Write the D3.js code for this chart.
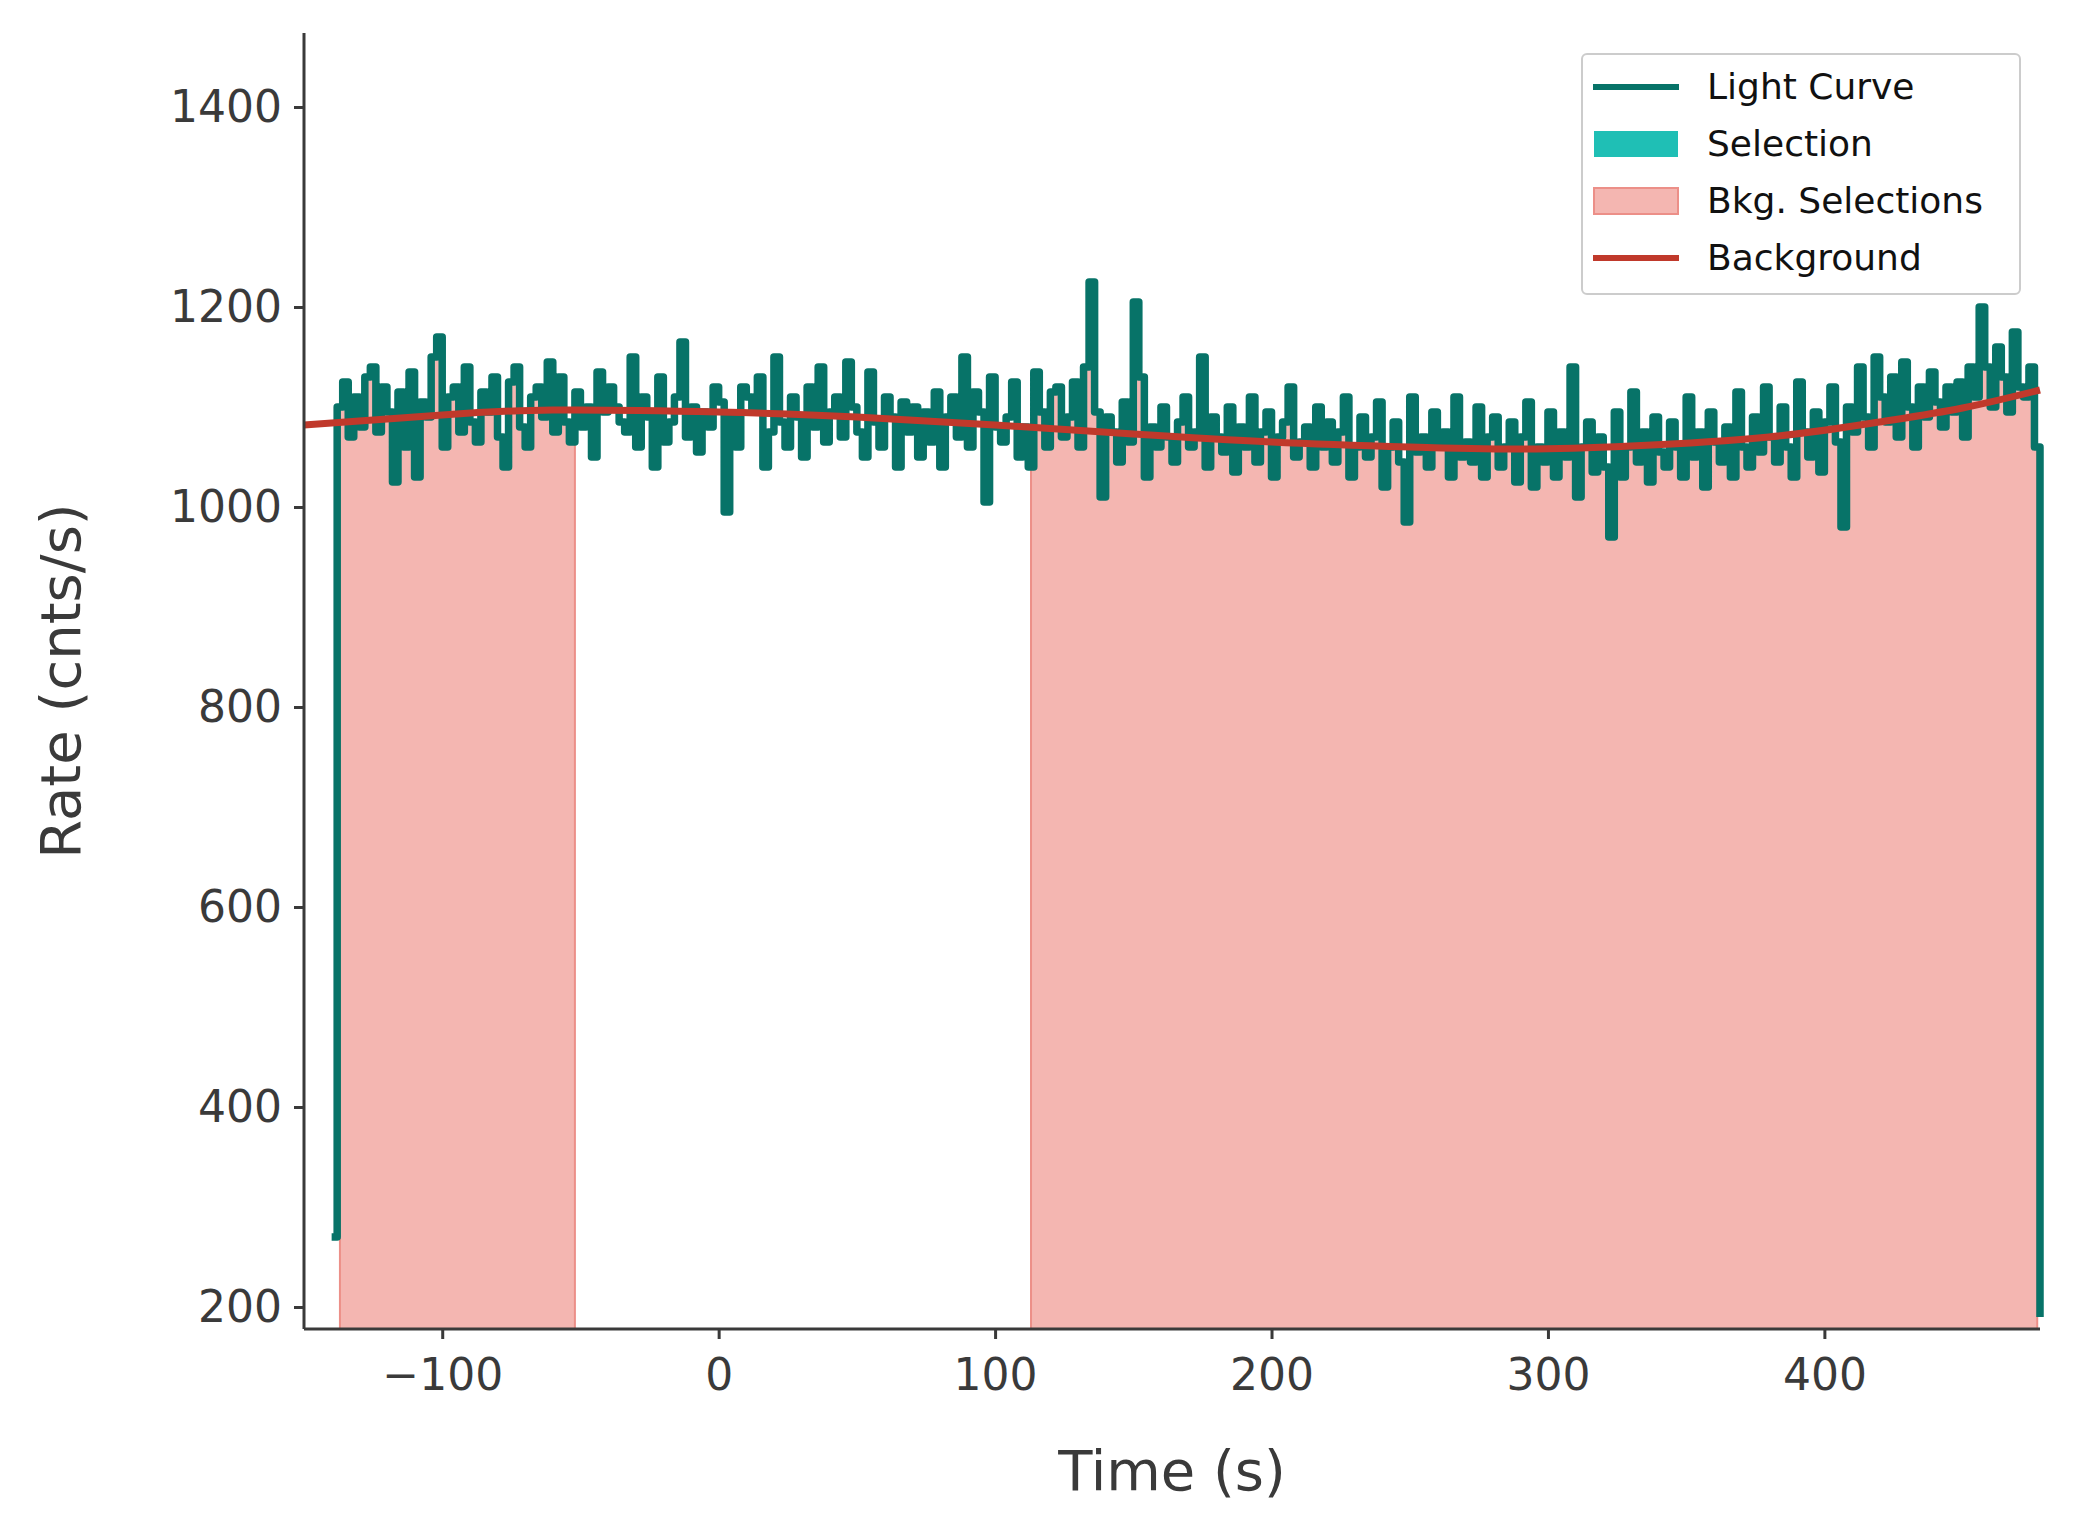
<!DOCTYPE html>
<html><head><meta charset="utf-8">
<script src="https://cdn.jsdelivr.net/npm/d3@7"></script>
<style>body{margin:0;background:#fff}text{font-family:"DejaVu Sans",sans-serif;fill:#3a3a3a}</style>
</head><body><svg id="c" width="2073" height="1540"></svg>
<script>
const binStart = -138, binWidth = 2;
const rates = [
1100,1125,1070,1110,1080,1130,1140,1075,1120,1095,1025,1115,1060,1135,1030,1105,1090,1150,1170,1060,
1110,1120,1075,1140,1085,1065,1115,1095,1130,1070,1040,1125,1140,1080,1060,1110,1120,1090,1145,1075,
1130,1085,1065,1115,1080,1100,1050,1135,1095,1120,1100,1085,1075,1150,1060,1110,1090,1040,1130,1065,
1085,1110,1165,1070,1100,1055,1095,1080,1120,1105,995,1090,1060,1120,1110,1095,1130,1040,1075,1150,
1085,1060,1110,1090,1050,1120,1080,1140,1065,1095,1110,1070,1145,1100,1075,1050,1135,1085,1060,1110,
1090,1040,1105,1075,1100,1050,1095,1065,1115,1040,1090,1110,1070,1150,1060,1115,1095,1005,1130,1080,
1065,1090,1125,1050,1080,1040,1135,1095,1060,1115,1120,1070,1090,1125,1060,1140,1225,1095,1010,1090,
1075,1045,1105,1065,1205,1130,1030,1080,1060,1100,1070,1045,1085,1110,1060,1075,1150,1040,1090,1070,
1055,1100,1035,1080,1060,1110,1045,1075,1095,1030,1070,1085,1120,1050,1065,1080,1040,1100,1060,1085,
1045,1075,1110,1030,1060,1090,1050,1070,1105,1020,1060,1085,1045,985,1110,1055,1070,1040,1095,1060,
1075,1030,1110,1050,1065,1045,1100,1030,1070,1090,1040,1060,1085,1025,1070,1105,1020,1060,1045,1095,
1030,1075,1050,1140,1010,1060,1085,1035,1070,1040,970,1095,1030,1060,1115,1045,1075,1025,1090,1055,
1040,1085,1060,1030,1110,1050,1075,1020,1095,1065,1045,1080,1030,1115,1060,1040,1090,1055,1120,1070,
1045,1100,1060,1030,1125,1075,1050,1095,1035,1085,1120,1065,980,1100,1075,1140,1090,1060,1150,1110,
1085,1130,1070,1145,1100,1060,1120,1090,1135,1105,1080,1120,1095,1125,1070,1140,1110,1200,1140,1100,
1160,1130,1095,1175,1120,1110,1140,1060];
const leadTime = -140, leadRate = 270, endTime = 478, endRate = 190;
const bkgSelections = [[-137, -52], [113, 477]];
const bkgTimes = [-150, -100, -60, 0, 50, 100, 150, 200, 250, 290, 330, 380, 420, 450, 478];
const bkgRates = [1082, 1092, 1097, 1095, 1090, 1082, 1073, 1065, 1060, 1058, 1061, 1070, 1085, 1099, 1117];
const xTicks = [-100, 0, 100, 200, 300, 400];
const yTicks = [200, 400, 600, 800, 1000, 1200, 1400];
const legendItems = ["Light Curve", "Selection", "Bkg. Selections", "Background"];

const M = {l:304, r:33, t:33, b:211}, W = 2073, H = 1540;
const svg = d3.select("#c");
const x = d3.scaleLinear().domain([-150, 478]).range([M.l, W - M.r]);
const y = d3.scaleLinear().domain([178, 1474]).range([H - M.b, M.t]);

let lc = [{t: leadTime, r: leadRate}];
rates.forEach((r, i) => lc.push({t: binStart + i * binWidth, r}));
lc.push({t: endTime, r: endRate});

bkgSelections.forEach(([a, b]) => {
  const pts = lc.filter(d => d.t >= a && d.t < b).slice();
  pts.unshift({t: a, r: lc.filter(d => d.t <= a).slice(-1)[0].r});
  pts.push({t: b, r: pts[pts.length - 1].r});
  svg.append("path").attr("d", d3.area().curve(d3.curveStepAfter).x(d => x(d.t)).y0(y(178)).y1(d => y(d.r))(pts))
    .attr("fill", "#f4b6b1").attr("stroke", "#ec8f88").attr("stroke-width", 2);
});

svg.append("path").attr("d", d3.line().curve(d3.curveStepAfter).x(d => x(d.t)).y(d => y(d.r))(lc))
  .attr("fill", "none").attr("stroke", "#077368").attr("stroke-width", 7.5).attr("stroke-linejoin", "round");

const bk = bkgTimes.map((t, i) => ({t, r: bkgRates[i]}));
svg.append("path").attr("d", d3.line().curve(d3.curveNatural).x(d => x(d.t)).y(d => y(d.r))(bk))
  .attr("fill", "none").attr("stroke", "#c0392b").attr("stroke-width", 7);

const ax = svg.append("g").attr("transform", `translate(0,${H - M.b})`)
  .call(d3.axisBottom(x).tickValues(xTicks).tickSize(10).tickPadding(20).tickFormat(d => d < 0 ? "\u2212" + Math.abs(d) : d));
const ay = svg.append("g").attr("transform", `translate(${M.l},0)`)
  .call(d3.axisLeft(y).tickValues(yTicks).tickSize(10).tickPadding(12).tickFormat(d3.format("d")));
[ax, ay].forEach(g => {
  g.selectAll("path,line").attr("stroke", "#3a3a3a").attr("stroke-width", 3);
  g.selectAll("text").attr("font-size", 44).style("fill", "#3a3a3a");
});
ax.select(".domain").attr("d", `M${M.l},0H${W - M.r}`);
ay.select(".domain").attr("d", `M0,${M.t}V${H - M.b}`);

svg.append("text").attr("x", (M.l + W - M.r) / 2).attr("y", 1490).attr("text-anchor", "middle").attr("font-size", 56).text("Time (s)");
svg.append("text").attr("transform", `translate(80,${(M.t + H - M.b) / 2}) rotate(-90)`).attr("text-anchor", "middle").attr("font-size", 56).text("Rate (cnts/s)");

const lg = svg.append("g");
lg.append("rect").attr("x", 1582).attr("y", 54).attr("width", 438).attr("height", 240).attr("rx", 5)
  .attr("fill", "#fff").attr("fill-opacity", 0.8).attr("stroke", "#ccc").attr("stroke-width", 2);
legendItems.forEach((name, i) => {
  const cy = 87 + i * 57;
  if (i === 0 || i === 3) lg.append("line").attr("x1", 1593).attr("x2", 1679).attr("y1", cy).attr("y2", cy)
    .attr("stroke", i === 0 ? "#077368" : "#c0392b").attr("stroke-width", 6);
  else lg.append("rect").attr("x", 1594).attr("y", cy - 13).attr("width", 84).attr("height", 26)
    .attr("fill", i === 1 ? "#1fbfb5" : "#f4b6b1").attr("stroke", i === 1 ? "none" : "#ec8f88").attr("stroke-width", 2);
  lg.append("text").attr("x", 1707).attr("y", cy + 12).attr("font-size", 36).style("fill", "#111").text(name);
});
</script></body></html>
